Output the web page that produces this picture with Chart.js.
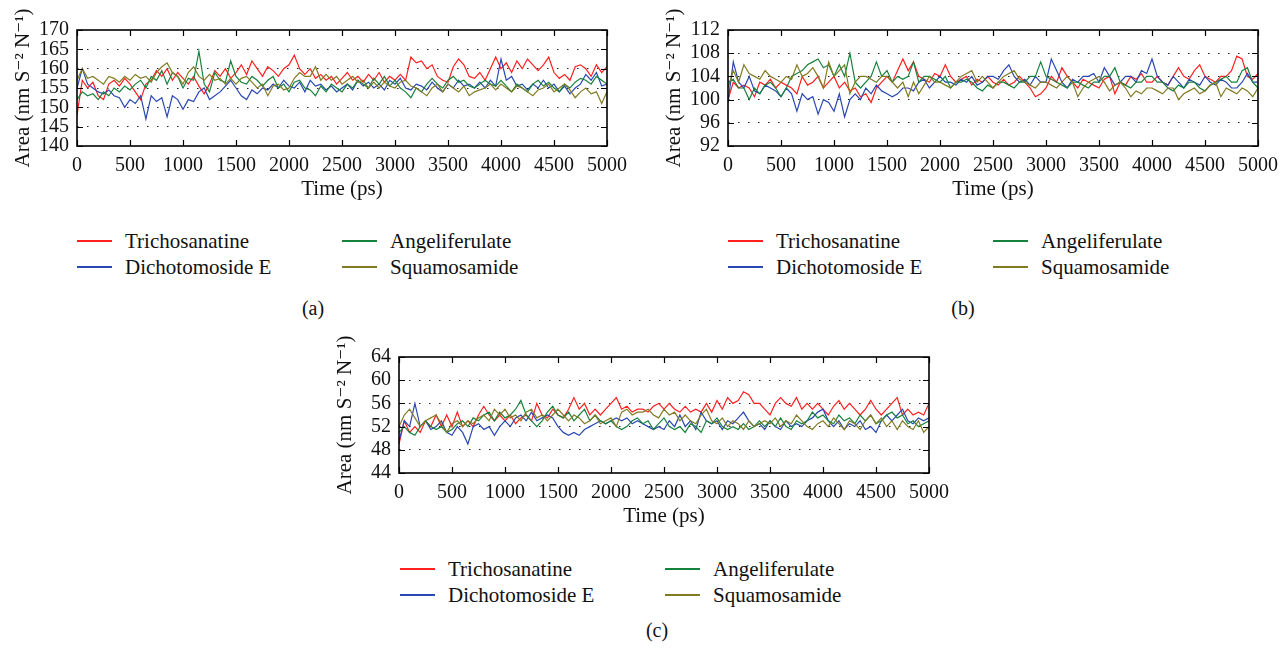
<!DOCTYPE html>
<html>
<head>
<meta charset="utf-8">
<script src="https://cdn.jsdelivr.net/npm/chart.js@4"></script>
<style>
  html, body { margin: 0; padding: 0; background: #fff; overflow: hidden; }
  body { width: 1282px; height: 648px; position: relative; font-family: "Liberation Serif", "DejaVu Serif", serif; color: #111; }
  canvas { position: absolute; }
  .leg { position: absolute; display: flex; align-items: center; height: 26px; font-size: 21px; white-space: nowrap; }
  .leg i { display: inline-block; width: 35px; height: 1.5px; margin-right: 13px; }
  .cap { position: absolute; font-size: 20px; line-height: 24px; transform: translateX(-50%); }
</style>
</head>
<body>
<script>
// time axis: one sample every 50 ps
const TIME_STEP_PS = 50;
const TIME_PS = Array.from({ length: 101 }, (_, i) => i * TIME_STEP_PS);
const X_TICKS = [0, 500, 1000, 1500, 2000, 2500, 3000, 3500, 4000, 4500, 5000];

const SERIES_NAMES = ['Trichosanatine', 'Dichotomoside E', 'Angeliferulate', 'Squamosamide'];
const COLORS = ['#ff1f1f', '#2a48b2', '#17823c', '#817b22'];

// (a)
const A_Y_TICKS = [140, 145, 150, 155, 160, 165, 170];
const A_TRICHO = [
  148, 157, 155, 156.5, 153, 152, 156, 157, 155.5, 157.5,
  156, 154, 152, 156, 157, 159.5, 158, 160, 157, 159,
  157.5, 156, 158, 155.5, 153.5, 156, 159.5, 158, 160, 157.5,
  159, 161, 158.5, 162, 160, 158, 160.5, 159.5, 158, 160,
  161, 163.5, 160, 158.5, 160, 157.5, 158.5, 157, 158, 156,
  157.5, 159, 157, 158, 156.5, 158.5, 157, 159, 156.5, 158,
  157, 158.5, 157, 163, 161.5, 162, 160, 161, 158, 157,
  156.5, 160.5, 162.5, 161, 158, 157.5, 159, 157, 160, 163,
  160, 161.5, 159, 162, 160, 162.5, 161, 159.5, 161, 163,
  159, 157.5, 158.5, 157, 160.5, 161, 160, 158, 161, 159,
  160.5
];
const A_DICHO = [
  155, 160, 156, 155, 154, 153.5, 154.5, 153, 152.5, 150,
  152, 151, 153, 147, 153, 151.5, 152.5, 147.5, 153, 152,
  149.5, 152, 151.5, 154, 155, 152, 153, 154, 155.5, 157,
  155, 153, 152, 154.5, 153.5, 155, 154.5, 156, 155, 157,
  155.5, 155, 156.5, 154, 157, 155.5, 156, 154.5, 155.5, 154,
  155, 156, 154.5, 157, 155.5, 156.5, 155, 156, 154.5, 157,
  156, 157.5, 155, 154.5, 156, 155.5, 154.5, 156.5, 155, 154,
  156, 155, 157, 155.5, 156, 155, 156.5, 155, 157, 155.5,
  162.5, 157, 158, 155.5, 156, 154.5, 156, 155, 157, 155,
  156, 154, 155.5, 153.5, 155, 156, 158.5, 157, 159, 155.5,
  156
];
const A_ANGEL = [
  152, 154, 153, 153.5, 152, 154, 153, 155, 154, 155.5,
  154.5, 156, 157, 155, 158, 157, 159.5, 156, 159, 158,
  155, 157.5, 157, 164.5, 156, 154, 159, 157, 156.5, 162,
  158, 156.5, 156, 158, 157, 155.5, 157, 158, 155, 156,
  154, 156.5, 157, 155, 154.5, 153, 155.5, 154, 156, 155,
  154, 156, 155, 157, 156, 155, 157.5, 156, 158, 155.5,
  157, 155, 154, 152.5, 155, 154, 156, 157.5, 156, 155,
  157, 158, 156.5, 157, 155.5, 155, 156, 157, 156, 155.5,
  157, 155.5, 154, 156, 155, 154, 156, 157, 155.5, 156.5,
  155, 154, 156, 155, 156.5, 157.5, 157, 156, 158, 157,
  156
];
const A_SQUAMO = [
  157, 160, 157.5, 158, 157, 156, 158, 157.5, 156.5, 158,
  157, 158.5, 157.5, 158, 156.5, 159, 160.5, 161.5, 159, 158,
  156, 159, 160.5, 158, 157, 158.5, 157, 157.5, 156, 157.5,
  156, 157.5, 158, 156.5, 155, 156, 153, 155.5, 156, 154.5,
  155, 157.5, 159, 158, 158, 160.5, 157, 158.5, 157, 158,
  156, 157, 158, 156.5, 157, 155, 156.5, 155, 156.5, 155.5,
  155, 156.5, 157, 155.5, 155, 154, 153, 155, 156, 154,
  156, 155, 154, 155.5, 153, 154, 154.5, 155, 156, 154.5,
  156, 155, 154, 155.5, 155, 154, 153, 154.5, 155, 156,
  154, 155, 156, 154.5, 152.5, 154, 155, 153.5, 154, 151,
  154
];

// (b)
const B_Y_TICKS = [92, 96, 100, 104, 108, 112];
const B_TRICHO = [
  100, 103, 102, 102.5, 102, 100.5, 103, 102.5, 103.5, 102,
  103, 102.5, 102, 101, 104, 102.5, 103, 104, 102, 103,
  104, 102, 103, 101.5, 102, 100.5, 101, 99.5, 102, 103,
  104, 103, 105, 107, 105, 106.5, 104, 103.5, 103, 104.5,
  104, 106, 104, 103, 103.5, 104, 102.5, 103.5, 103, 104,
  103, 102.5, 103.5, 102.5, 103, 104, 103, 102, 100.5, 101,
  102, 104, 103, 105.5, 104, 103, 102, 103.5, 103, 102.5,
  102, 103.5, 104, 101, 103, 102.5, 104, 103.5, 104.5, 103,
  103, 104, 103, 102.5, 104, 105.5, 104, 103.5, 105, 106,
  104, 103.5, 103, 104, 104, 105, 107.5, 107, 104, 103.5,
  104.5
];
const B_DICHO = [
  99.5, 106.5, 103, 102, 104, 101.5, 101, 102.5, 102, 101.5,
  100.5, 102, 101, 98, 101, 100, 100.5, 97.5, 100, 99.5,
  98, 101, 97, 100, 101, 100, 102, 101, 102.5, 101.5,
  101, 100.5, 101, 102, 102, 101.5, 103, 103.5, 102, 103,
  104, 103, 103, 102.5, 103.5, 103, 104, 102.5, 103, 104,
  104, 103.5, 105, 106, 104, 103, 103.5, 102.5, 104, 103,
  103, 107, 105, 103, 102, 103.5, 103, 104, 104, 104.5,
  103, 105.5, 104, 102.5, 103, 104, 104, 103, 105, 104.5,
  107, 104, 103, 102.5, 104, 103, 102, 103.5, 103, 102.5,
  104, 103, 102.5, 103.5, 103, 102, 102, 103, 104.5, 103,
  103
];
const B_ANGEL = [
  103, 103.5, 102, 102, 100, 102, 101, 102.5, 103, 102,
  100.5, 102, 104, 104.5, 105, 106, 106.5, 107, 105.5, 106,
  104, 106, 104, 108, 103, 102, 103, 104, 106.5, 104,
  105, 103, 104, 103.5, 104, 106.5, 103, 104, 104, 103.5,
  103, 104, 102, 103, 103, 103.5, 103, 102, 101.5, 102.5,
  102, 103, 103, 102.5, 102, 103, 103, 104, 104, 106.5,
  104, 103.5, 103, 102.5, 102, 103, 103, 102.5, 102, 103,
  103, 104, 104, 105.5, 103, 102.5, 102, 103, 103, 104,
  104, 103, 103, 102, 101.5, 102.5, 102, 103, 103, 102,
  101.5, 102.5, 103, 103.5, 104, 103, 103, 105, 105.5, 103,
  102
];
const B_SQUAMO = [
  102, 105, 103, 106, 104.5, 104, 103.5, 105, 104, 103.5,
  103, 104, 103.5, 106, 104, 104.5, 105.5, 104, 102, 106.5,
  104, 105, 106, 101, 103, 104, 104, 103.5, 103, 104,
  104, 103, 102, 103, 100.5, 103, 101, 102.5, 104, 103,
  103, 102.5, 102, 103, 104, 104.5, 105, 103, 104, 103,
  102, 103, 104, 104.5, 105, 103.5, 103, 102.5, 102, 103,
  103, 102.5, 102, 103, 104, 103, 100.5, 102, 103, 103.5,
  104, 103, 101.5, 102.5, 103, 102, 100.5, 101.5, 101, 102,
  102, 101.5, 101, 102, 102, 100, 101, 101.5, 102, 101,
  101.5, 102.5, 103, 100.5, 102, 101.5, 101, 102, 101.5, 100.5,
  102
];

// (c)
const C_Y_TICKS = [44, 48, 52, 56, 60, 64];
const C_TRICHO = [
  49, 53, 51, 52, 51, 53, 52, 54, 52, 54,
  52, 54.5, 52, 53, 52, 54, 55.5, 54, 53, 54,
  53, 54, 52.5, 53.5, 54, 53, 56, 54, 53.5, 55,
  54, 53.5, 55, 57, 55, 56, 54, 55, 54, 55,
  56, 57, 55, 55.5, 54.5, 55, 55, 54.5, 55.5, 56,
  55, 56, 55, 54.5, 55.5, 54.5, 55, 54.5, 56, 54.5,
  56.5, 55, 57, 56, 56.5, 58, 57.5, 56, 56, 55,
  54, 56, 57, 56, 55.5, 57, 55, 56, 55, 56,
  55, 54, 55.5, 56.5, 55, 56, 55, 54, 55, 56.5,
  55, 54, 55, 56, 57, 54, 55, 54, 54.5, 54,
  56
];
const C_DICHO = [
  49.5, 53, 52, 56, 52, 53, 51.5, 52, 53, 51,
  50.5, 52, 51, 49, 52, 52.5, 51.5, 52, 50.5, 52,
  53, 52, 53.5, 54, 53, 54.5, 53, 53.5, 54, 53.5,
  52, 51, 50.5, 51, 50.5, 51.5, 52, 52.5, 53, 52.5,
  53, 53.5, 53, 53.5, 52.5, 53, 52.5, 52, 51.5, 52,
  51.5, 53, 52, 54, 52, 53, 51.5, 54.5, 53, 52.5,
  53, 51.5, 53, 52.5, 53.5, 54.5, 53, 52, 52.5, 51.5,
  53, 52, 51.5, 53, 52, 52.5, 52, 53, 53.5, 54.5,
  55, 53, 52, 53, 51.5, 52.5, 52, 53, 51.5, 52,
  51, 53, 54, 53, 54, 55, 53, 52.5, 53.5, 53,
  53.5
];
const C_ANGEL = [
  51, 52, 51, 50.5, 52, 53, 52, 51.5, 52, 51,
  51.5, 52.5, 53, 52, 53.5, 53, 54, 54.5, 53, 54.5,
  53.5, 54, 55, 56.5, 54, 53, 52, 53, 54.5, 55.5,
  54, 53.5, 54.5, 53, 54, 55, 53, 54, 53, 52.5,
  53, 52, 51.5, 52, 53, 53.5, 52.5, 53, 51.5, 52.5,
  53.5, 52, 51.5, 52, 51, 52.5, 52, 51, 53, 52.5,
  53.5, 52, 51.5, 52, 51.5, 52.5, 51.5, 52, 53, 52,
  53, 52, 53.5, 52, 51.5, 53, 52.5, 53, 54.5, 53.5,
  54, 53, 52.5, 54, 53, 53.5, 52.5, 54, 53, 54,
  52.5, 53, 54, 54.5, 53.5, 54, 52.5, 53, 52, 52.5,
  53
];
const C_SQUAMO = [
  52, 54, 55, 53.5, 52, 53, 53.5, 54, 52.5, 51,
  52.5, 53, 52, 53, 52.5, 53.5, 54, 53, 55, 54,
  55, 53.5, 54, 53, 54.5, 55, 53.5, 54, 53, 54,
  55, 54, 53, 54, 53.5, 52.5, 53, 54, 52.5, 53,
  53.5, 52, 54.5, 55, 54, 54.5, 54.5, 55, 54, 53.5,
  55, 54, 54.5, 53, 54, 53, 52.5, 54, 55, 53,
  52.5, 53.5, 52, 53, 52.5, 51.5, 53, 52, 52.5, 53,
  52.5, 53.5, 52, 53, 52.5, 54, 53, 52, 51.5, 52.5,
  53, 52, 53.5, 52.5, 51.5, 53, 52.5, 51.5, 53, 54,
  52.5, 53.5, 52, 53, 51.5, 53, 52, 51.5, 53, 51,
  52
];

const FONT = '"Liberation Serif", "DejaVu Serif", serif';

const PANELS = [
  { name: '(a)', left: 0, top: 0, width: 640, padRight: 33, yTicks: A_Y_TICKS,
    series: [A_TRICHO, A_DICHO, A_ANGEL, A_SQUAMO], legendX: 77, legendY: 241, capX: 313, capY: 308 },
  { name: '(b)', left: 651, top: 0, width: 631, padRight: 24, yTicks: B_Y_TICKS,
    series: [B_TRICHO, B_DICHO, B_ANGEL, B_SQUAMO], legendX: 728, legendY: 241, capX: 963, capY: 308 },
  { name: '(c)', left: 322, top: 327, width: 640, padRight: 33, yTicks: C_Y_TICKS,
    series: [C_TRICHO, C_DICHO, C_ANGEL, C_SQUAMO], legendX: 400, legendY: 569, capX: 657, capY: 630 }
];

// box round the plot with inward tick marks on all four sides
const framePlugin = {
  id: 'frame',
  afterDatasetsDraw(chart) {
    const { ctx, chartArea: a, scales: { x, y } } = chart;
    ctx.save();
    ctx.setLineDash([]);
    ctx.strokeStyle = '#000';
    ctx.lineWidth = 1.2;
    ctx.beginPath();
    x.ticks.forEach(t => {
      const px = Math.round(x.getPixelForValue(t.value)) + 0.5;
      ctx.moveTo(px, a.bottom); ctx.lineTo(px, a.bottom - 6);
      ctx.moveTo(px, a.top); ctx.lineTo(px, a.top + 6);
    });
    y.ticks.forEach(t => {
      const py = Math.round(y.getPixelForValue(t.value)) + 0.5;
      ctx.moveTo(a.left, py); ctx.lineTo(a.left + 6, py);
      ctx.moveTo(a.right, py); ctx.lineTo(a.right - 6, py);
    });
    ctx.stroke();
    ctx.lineWidth = 1.6;
    ctx.strokeRect(a.left, a.top, a.right - a.left, a.bottom - a.top);
    ctx.restore();
  }
};

function addLegend(p) {
  SERIES_NAMES.forEach((name, k) => {
    const el = document.createElement('div');
    el.className = 'leg';
    el.style.left = (p.legendX + (k >= 2 ? 265 : 0)) + 'px';
    el.style.top = (p.legendY - 13 + (k % 2) * 26) + 'px';
    el.innerHTML = '<i style="background:' + COLORS[k] + '"></i>' + name;
    document.body.appendChild(el);
  });
  const cap = document.createElement('div');
  cap.className = 'cap';
  cap.style.left = p.capX + 'px';
  cap.style.top = (p.capY - 12) + 'px';
  cap.textContent = p.name;
  document.body.appendChild(cap);
}

PANELS.forEach(p => {
  const canvas = document.createElement('canvas');
  canvas.width = p.width;
  canvas.height = 210;
  canvas.style.left = p.left + 'px';
  canvas.style.top = p.top + 'px';
  document.body.appendChild(canvas);

  const yTicks = p.yTicks;
  new Chart(canvas, {
    type: 'line',
    data: {
      datasets: p.series.map((vals, k) => ({
        label: SERIES_NAMES[k],
        data: vals.map((v, i) => ({ x: TIME_PS[i], y: v })),
        borderColor: COLORS[k],
        borderWidth: 1.2,
        pointRadius: 0,
        tension: 0,
        fill: false,
        order: 4 - k
      }))
    },
    options: {
      responsive: false,
      animation: false,
      events: [],
      layout: { padding: { top: 30, right: p.padRight, left: 0, bottom: 0 } },
      plugins: { legend: { display: false }, tooltip: { enabled: false } },
      scales: {
        x: {
          type: 'linear',
          min: X_TICKS[0],
          max: X_TICKS[X_TICKS.length - 1],
          afterBuildTicks: s => { s.ticks = X_TICKS.map(v => ({ value: v })); },
          afterFit: s => { s.height = 64; },
          grid: { display: false },
          border: { display: false },
          ticks: { color: '#111', font: { family: FONT, size: 20 }, padding: 0, maxRotation: 0, autoSkip: false,
                   callback: v => String(v) },
          title: { display: true, text: 'Time (ps)', color: '#111', font: { family: FONT, size: 21 }, padding: { top: 0, bottom: 8 } }
        },
        y: {
          min: yTicks[0],
          max: yTicks[yTicks.length - 1],
          afterBuildTicks: s => { s.ticks = yTicks.map(v => ({ value: v })); },
          afterFit: s => { s.width = 77; },
          grid: {
            drawTicks: false,
            lineWidth: 1,
            color: c => (c.tick && (c.tick.value === yTicks[0] || c.tick.value === yTicks[yTicks.length - 1])) ? 'rgba(0,0,0,0)' : '#222'
          },
          border: { display: false, dash: [1.5, 8.5] },
          ticks: { color: '#111', font: { family: FONT, size: 20 }, padding: 8, autoSkip: false,
                   callback: v => String(v) },
          title: { display: true, text: 'Area (nm S⁻² N⁻¹)', color: '#111', font: { family: FONT, size: 21 }, padding: { top: 11, bottom: 0 } }
        }
      }
    },
    plugins: [framePlugin]
  });

  addLegend(p);
});
</script>
</body>
</html>
